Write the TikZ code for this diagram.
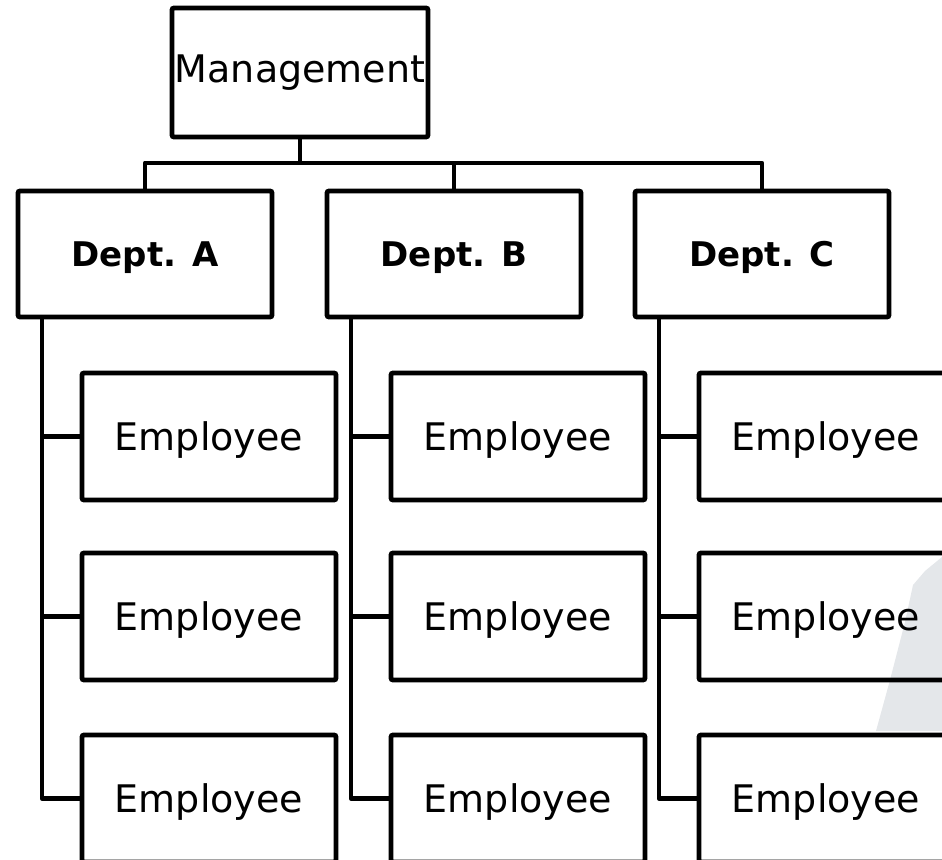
\documentclass[tikz,border=0pt]{standalone}
\usepackage{fontspec}
\setmainfont{DejaVu Sans}
\usepackage{tikz}
\usetikzlibrary{positioning}
\definecolor{bggray}{HTML}{E4E7EA}

\begin{document}
\begin{tikzpicture}[
    x=0.5pt, y=-0.5pt,
    box/.style={rectangle, draw, line width=2.4pt, rounded corners=1pt, inner sep=0pt, outer sep=0pt, align=center},
    top/.style={box, minimum width=128pt, minimum height=64.5pt, font=\fontsize{19}{23}\selectfont},
    dept/.style={box, minimum width=127pt, minimum height=63pt, text depth=0pt, font=\fontsize{17}{20}\selectfont\bfseries},
    emp/.style={box, minimum width=127pt, minimum height=63.5pt, text depth=0pt, font=\fontsize{19}{23}\selectfont},
    link/.style={line width=2.4pt, line join=round}
]
\useasboundingbox (0,0) rectangle (942,860);
\clip (0,0) rectangle (942,860);
% background patch
\fill[bggray] (942,557) -- (925,571) -- (913,585) -- (905,622) -- (890,680) -- (876,731) -- (942,731) -- cycle;

\node[top] (mgmt) at (300,72.5) {Management};
\coordinate (bus) at (300,163);
\draw[link] (mgmt.south) -- (bus);

\foreach \d/\x in {A/145,B/454,C/762} {
  \node[dept] (dept\d) at (\x,254) {Dept. \d};
  \node[emp, below right=28pt and 32pt of dept\d.south west] (emp\d1) {Employee};
  \node[emp, below=26.5pt of emp\d1] (emp\d2) {Employee};
  \node[emp, below=27.5pt of emp\d2] (emp\d3) {Employee};
  \coordinate[xshift=12pt] (trunk\d) at (dept\d.south west);
  \draw[link] (dept\d.north) |- (bus);
  \draw[link] (trunk\d) |- (emp\d3.west);
  \draw[link] (emp\d1.west) -- (emp\d1.west -| trunk\d);
  \draw[link] (emp\d2.west) -- (emp\d2.west -| trunk\d);
}
\end{tikzpicture}
\end{document}
